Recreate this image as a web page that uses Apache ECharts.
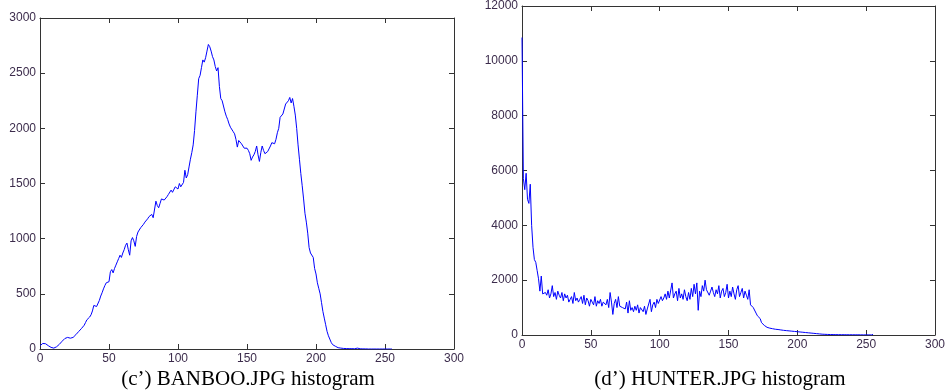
<!DOCTYPE html>
<html>
<head>
<meta charset="utf-8">
<script src="https://cdn.jsdelivr.net/npm/echarts@6/dist/echarts.min.js"></script>
<style>
  html, body { margin: 0; padding: 0; background: #fff; }
  #chart { width: 948px; height: 391px; }
</style>
</head>
<body>
<div id="chart"></div>
<script>
// pixel counts for grey levels 0..255
const banbooCounts = [
  30, 45, 50, 55, 48, 40, 30, 22, 15, 10,
  8, 12, 20, 30, 42, 55, 70, 85, 95, 100,
  105, 102, 98, 95, 105, 120, 130, 145, 158, 170,
  185, 200, 215, 240, 265, 275, 290, 310, 345, 395,
  410, 385, 400, 440, 480, 510, 545, 575, 600, 590,
  610, 700, 720, 690, 730, 760, 790, 820, 850, 830,
  870, 900, 940, 960, 900, 850, 980, 1010, 980, 930,
  1020, 1060, 1075, 1100, 1090, 1130, 1150, 1160, 1180, 1200,
  1210, 1220, 1190, 1200, 1340, 1300, 1280, 1320, 1360, 1370,
  1350, 1345, 1380, 1400, 1410, 1440, 1420, 1430, 1470, 1460,
  1450, 1500, 1470, 1460, 1510, 1620, 1550, 1580, 1650, 1720,
  1780, 1850, 1980, 2150, 2300, 2450, 2480, 2550, 2620, 2600,
  2640, 2700, 2760, 2740, 2700, 2650, 2620, 2560, 2520, 2550,
  2380, 2270, 2250, 2240, 2150, 2110, 2080, 2040, 2010, 2000,
  1970, 1950, 1900, 1830, 1890, 1880, 1860, 1840, 1820, 1815,
  1820, 1800, 1770, 1710, 1740, 1760, 1790, 1840, 1760, 1700,
  1780, 1840, 1800, 1770, 1785, 1790, 1800, 1840, 1870, 1880,
  1860, 1900, 1960, 2000, 2100, 2110, 2130, 2140, 2220, 2230,
  2250, 2280, 2230, 2270, 2200, 2120, 2000, 1850, 1720, 1590,
  1480, 1360, 1230, 1150, 1050, 920, 870, 860, 830, 730,
  680, 600, 550, 500, 420, 340, 280, 220, 160, 120,
  90, 60, 40, 30, 25, 18, 12, 10, 8, 6,
  5, 5, 4, 4, 3, 3, 3, 3, 2, 2,
  8, 2, 2, 1, 1, 1, 1, 1, 0, 0,
  0, 0, 0, 0, 0, 0, 0, 0, 0, 0,
  0, 0, 0, 0, 0, 0
];

const hunterCounts = [
  10850, 5700, 5300, 5900, 4950, 4800, 5500, 4000, 3200, 2750,
  2650, 2350, 2050, 1600, 2150, 1500, 1450, 1550, 1450, 1650,
  1350, 1500, 1800, 1400, 1550, 1300, 1600, 1450, 1350, 1550,
  1250, 1500, 1350, 1450, 1200, 1300, 1400, 1150, 1550, 1250,
  1350, 1200, 1300, 1400, 1150, 1450, 1100, 1350, 1250, 1050,
  1300, 1200, 1100, 1400, 1050, 1250, 1150, 1300, 1050, 1200,
  1250, 1100, 1300, 1000, 1550, 1200, 750, 1150, 1300, 1000,
  1400, 1050, 1100, 1000, 1050, 950, 1200, 800, 1250, 900,
  1000, 850, 1050, 900, 1100, 800, 1000, 950, 850, 1050,
  750, 950, 1000, 1300, 850, 1100, 1200, 1000, 1300, 1150,
  1200, 1400, 1250, 1350, 1500, 1300, 1600, 1350, 1400, 1900,
  1350, 1500, 1600, 1250, 1700, 1350, 1500, 1300, 1650, 1400,
  1250, 1550, 1300, 1700, 1400, 1850, 1500, 1900, 900, 1600,
  1400, 1800, 1600, 2000, 1650, 1700, 1450, 1600, 1750, 1550,
  1400, 1650, 1500, 1800, 1350, 1600, 1700, 1400, 1550, 1850,
  1350, 1600, 1400, 1750, 1500, 1300, 1650, 1800, 1400, 1550,
  1700, 1350, 1600, 1450, 1300, 1650, 1100, 1050, 1000, 950,
  800, 700, 650, 600, 450, 400, 350, 300, 280, 260,
  250, 240, 230, 220, 210, 215, 200, 190, 185, 180,
  170, 165, 160, 155, 150, 145, 140, 135, 130, 125,
  120, 115, 110, 105, 100, 95, 90, 85, 80, 75,
  70, 65, 60, 55, 50, 45, 40, 35, 30, 28,
  25, 22, 20, 18, 17, 16, 15, 14, 13, 12,
  12, 11, 11, 10, 10, 10, 9, 9, 9, 8,
  8, 8, 7, 7, 7, 6, 6, 6, 5, 5,
  5, 4, 4, 3, 3, 25
];

const captions = ['(c’) BANBOO.JPG histogram', '(d’) HUNTER.JPG histogram'];
const yMax = [3000, 12000];
const yStep = [500, 2000];

const boxColor = '#333';
const labelColor = '#3c2c4c';

function pairs(counts) {
  return counts.map((v, i) => [i, v]);
}

function xAxis(gridIndex, position) {
  return {
    type: 'value', gridIndex, position, min: 0, max: 300, interval: 50,
    axisLine: { show: true, onZero: false, lineStyle: { color: boxColor, width: 1 } },
    axisTick: { show: true, inside: true, length: 5, lineStyle: { color: boxColor } },
    axisLabel: {
      show: position === 'bottom', margin: 4, color: labelColor,
      fontFamily: 'Liberation Sans', fontSize: 12, formatter: (v) => String(v)
    },
    splitLine: { show: false }
  };
}

function yAxis(gridIndex, position) {
  return {
    type: 'value', gridIndex, position, min: 0, max: yMax[gridIndex], interval: yStep[gridIndex],
    axisLine: { show: true, onZero: false, lineStyle: { color: boxColor, width: 1 } },
    axisTick: { show: true, inside: true, length: 5, lineStyle: { color: boxColor } },
    axisLabel: {
      show: position === 'left', margin: 4, color: labelColor,
      fontFamily: 'Liberation Sans', fontSize: 12, formatter: (v) => String(v)
    },
    splitLine: { show: false }
  };
}

const chart = echarts.init(document.getElementById('chart'), null, { renderer: 'canvas' });
chart.setOption({
  animation: false,
  backgroundColor: '#fff',
  grid: [
    { left: 40, right: 494, top: 18, bottom: 42 },
    { left: 522, right: 11, top: 6, bottom: 56 }
  ],
  xAxis: [xAxis(0, 'bottom'), xAxis(0, 'top'), xAxis(1, 'bottom'), xAxis(1, 'top')],
  yAxis: [yAxis(0, 'left'), yAxis(0, 'right'), yAxis(1, 'left'), yAxis(1, 'right')],
  series: [
    {
      type: 'line', xAxisIndex: 0, yAxisIndex: 0, data: pairs(banbooCounts),
      showSymbol: false, lineStyle: { color: '#0000ff', width: 1 }
    },
    {
      type: 'line', xAxisIndex: 2, yAxisIndex: 2, data: pairs(hunterCounts),
      showSymbol: false, lineStyle: { color: '#0000ff', width: 1 }
    }
  ],
  graphic: [
    {
      type: 'text', x: 248, y: 379,
      style: {
        text: captions[0], fill: '#000', font: '21px "Liberation Serif"',
        textAlign: 'center', textVerticalAlign: 'middle'
      }
    },
    {
      type: 'text', x: 720, y: 379,
      style: {
        text: captions[1], fill: '#000', font: '21px "Liberation Serif"',
        textAlign: 'center', textVerticalAlign: 'middle'
      }
    }
  ]
});
</script>
</body>
</html>
